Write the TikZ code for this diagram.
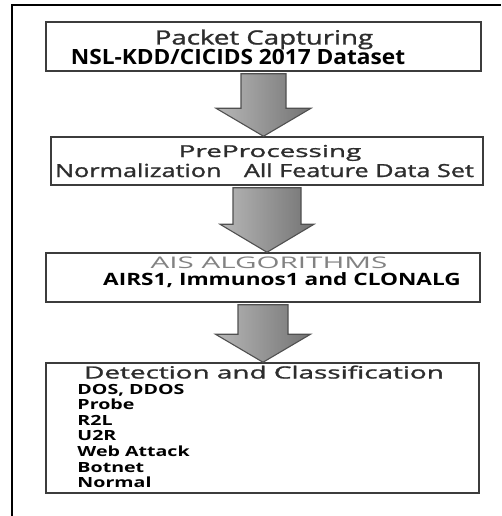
\documentclass[tikz,border=0pt]{standalone}
\usepackage{fontspec}
\setmainfont{Open Sans}
\newfontfamily\headfont{Open Sans}[FakeBold=1.2]
\newfontfamily\listfont{Open Sans}[FakeStretch=1.4]
\usepackage{tikz}
\usetikzlibrary{positioning, calc}

\definecolor{boxline}{RGB}{60,60,60}
\definecolor{arrowline}{RGB}{80,80,80}
\definecolor{headtext}{RGB}{45,45,45}
\definecolor{algogray}{RGB}{130,130,130}

% block arrow from the bottom of one stage to the top of the next
% #1 from, #2 to, #3 half shaft width, #4 half head width
\newcommand{\fatarrow}[4]{%
  \path[fatarrow] let \p1=(#1.south), \p2=(#2.north) in
    (\x1-#3,\y1-2pt) -- (\x1+#3,\y1-2pt) -- (\x1+#3,\y2+28pt)
    -- (\x1+#4,\y2+28pt) -- (\x1,\y2) -- (\x1-#4,\y2+28pt)
    -- (\x1-#3,\y2+28pt) -- cycle;}

\begin{document}
\begin{tikzpicture}[x=1pt, y=-1pt,
  stage/.style={draw=boxline, line width=1.5pt, fill=white,
    inner sep=0pt, minimum width=435pt, minimum height=49pt},
  stagetext/.style={inner sep=0pt, anchor=base},
  fatarrow/.style={draw=arrowline, line width=1.1pt, line join=miter,
    left color=black!28, right color=black!55}]

  \useasboundingbox (0,0) rectangle (501,516);

  % frame
  \draw[line width=1.8pt] (12,516) -- (12,5) -- (501,5);

  % stages
  \node[stage] (capture) at (263.5,46.5) {};
  \node[stage, minimum width=432pt, minimum height=48pt] (prep)
    at (267,161) {};
  \node[stage, minimum width=434pt] (ais) at (263,277.5) {};
  \node[stage, minimum width=433pt, minimum height=130pt] (detect)
    at (262.5,428) {};

  % stage texts
  \node[stagetext, text=headtext, font=\headfont\fontsize{19.6}{20}\selectfont]
    (capturehead) at (264,44.5) {\scalebox{1.41}[1]{Packet Capturing}};
  \node[stagetext, font=\bfseries\fontsize{21}{22}\selectfont]
    (captureset) at (238,64.7)
    {\scalebox{1.08}[1]{NSL-KDD/CICIDS 2017 Dataset}};

  \node[stagetext, text=headtext, font=\headfont\fontsize{16.4}{17}\selectfont]
    (prephead) at (270,157) {\scalebox{1.7}[1]{PreProcessing}};
  \node[stagetext, text=headtext, font=\headfont\fontsize{18}{19}\selectfont]
    (prepset) at (264.5,177)
    {\scalebox{1.4}[1]{Normalization\hspace{16pt}All Feature Data Set}};

  \node[stagetext, text=algogray, font=\fontsize{16}{17}\selectfont]
    (aishead) at (269,268) {\scalebox{1.85}[1]{AIS ALGORITHMS}};
  \node[stagetext, font=\bfseries\fontsize{17}{18}\selectfont]
    (aisset) at (282,285.5)
    {\scalebox{1.33}[1]{AIRS1, Immunos1 and CLONALG}};

  \node[stagetext, text=headtext, font=\headfont\fontsize{16.8}{17}\selectfont]
    (detecthead) at (264,378.5)
    {\scalebox{1.66}[1]{Detection and Classification}};
  \node[font=\listfont\bfseries\fontsize{14}{15.6}\selectfont, align=left,
    anchor=north west, inner sep=0pt] (attacks)
    at ([xshift=32pt, yshift=-21.5pt]detect.north west)
    {DOS, DDOS\\ Probe\\ R2L\\ U2R\\ Web Attack\\ Botnet\\ Normal};

  % arrows between stages
  \fatarrow{capture}{prep}{22.5pt}{47.5pt}
  \fatarrow{prep}{ais}{34pt}{47pt}
  \fatarrow{ais}{detect}{25pt}{47.5pt}

\end{tikzpicture}
\end{document}
